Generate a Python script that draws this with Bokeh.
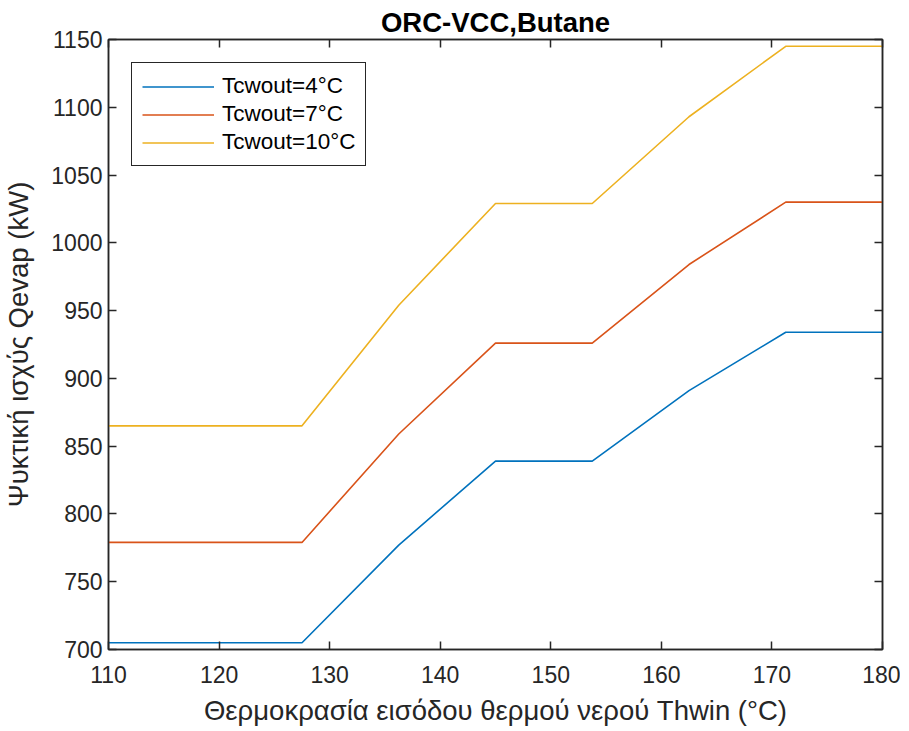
from bokeh.plotting import figure
from bokeh.models import LinearAxis, Range1d, FixedTicker, Legend, LegendItem, Title
from bokeh.embed import file_html
from bokeh.resources import INLINE

thwin = [110, 118.75, 127.5, 136.25, 145, 153.75, 162.5, 171.25, 180]
q_4 = [705, 705, 705, 777, 839, 839, 891, 934, 934]
q_7 = [779, 779, 779, 859, 926, 926, 984, 1030, 1030]
q_10 = [865, 865, 865, 954, 1029, 1029, 1093, 1145, 1145]
labels = ["Tcwout=4°C", "Tcwout=7°C", "Tcwout=10°C"]
colors = ["#0072BD", "#D95319", "#EDB120"]
x_ticks = [110, 120, 130, 140, 150, 160, 170, 180]
y_ticks = [700, 750, 800, 850, 900, 950, 1000, 1050, 1100, 1150]

FONT = "Liberation Sans"
AX = "#262626"

p = figure(width=900, height=728, output_backend="svg", toolbar_location=None,
           x_range=Range1d(110, 180), y_range=Range1d(700, 1150),
           min_border_left=108, min_border_right=18, min_border_top=39, min_border_bottom=78)
p.title = Title(text="ORC-VCC,Butane", align="center", text_font=FONT,
                text_font_size="27.5px", text_font_style="bold", text_color="#000000",
                offset=0, standoff=4)
p.xgrid.visible = False
p.ygrid.visible = False
p.outline_line_color = AX
p.outline_line_width = 1.5
p.background_fill_color = "white"
p.border_fill_color = "white"

renderers = []
for ys, c in zip([q_4, q_7, q_10], colors):
    r = p.line(thwin, ys, line_color=c, line_width=1.6)
    renderers.append(r)

def style_axis(ax, show_labels=True):
    ax.major_tick_in = 8
    ax.major_tick_out = 0
    ax.minor_tick_in = 0
    ax.minor_tick_out = 0
    ax.axis_line_color = AX
    ax.axis_line_width = 1.5
    ax.major_tick_line_color = AX
    ax.major_tick_line_width = 1.5
    ax.major_label_text_font = FONT
    ax.major_label_text_font_size = "23px"
    ax.major_label_text_color = AX
    ax.axis_label_text_font = FONT
    ax.axis_label_text_font_size = "27.5px"
    ax.axis_label_text_font_style = "normal"
    ax.axis_label_text_color = AX
    if not show_labels:
        ax.major_label_text_font_size = "0px"
        ax.major_label_text_alpha = 0

xa = p.xaxis[0]
ya = p.yaxis[0]
xa.ticker = FixedTicker(ticks=x_ticks)
ya.ticker = FixedTicker(ticks=y_ticks)
style_axis(xa)
style_axis(ya)
xa.axis_label = "Θερμοκρασία εισόδου θερμού νερού Thwin (°C)"
ya.axis_label = "Ψυκτική ισχύς Qevap (kW)"
xa.major_label_standoff = 16
ya.major_label_standoff = 6
xa.axis_label_standoff = 9
ya.axis_label_standoff = 14

top = LinearAxis(ticker=FixedTicker(ticks=x_ticks))
style_axis(top, False)
top.major_label_standoff = 0
p.add_layout(top, "above")
right = LinearAxis(ticker=FixedTicker(ticks=y_ticks))
style_axis(right, False)
right.major_label_standoff = 0
p.add_layout(right, "right")

legend = Legend(items=[LegendItem(label=l, renderers=[r]) for l, r in zip(labels, renderers)],
                location="top_left")
legend.margin = 23
legend.border_line_color = AX
legend.border_line_alpha = 1.0
legend.border_line_width = 1.5
legend.background_fill_color = "white"
legend.background_fill_alpha = 1.0
legend.label_text_font = FONT
legend.label_text_font_size = "22.5px"
legend.label_text_color = "#000000"
legend.glyph_width = 72
legend.glyph_height = 25
legend.label_height = 25
legend.label_standoff = 8
legend.spacing = 2
legend.padding = 10
p.add_layout(legend, "center")

open("out.html", "w").write(file_html(p, INLINE))
